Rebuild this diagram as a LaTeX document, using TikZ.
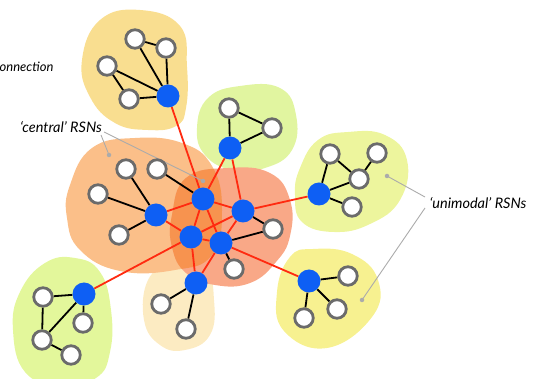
\documentclass[tikz,border=0pt]{standalone}
\usepackage{fontspec}
\setmainfont{Lato}

\definecolor{hubblue}{HTML}{0E5FF4}
\definecolor{linkred}{HTML}{FF2A10}
\definecolor{leafgray}{HTML}{6B6B6B}
\definecolor{leadgray}{HTML}{ABABAB}
\definecolor{ochre}{HTML}{F9DE90}
\definecolor{limeA}{HTML}{E1F5A0}
\definecolor{limeB}{HTML}{E3F79B}
\definecolor{limeC}{HTML}{EDF59D}
\definecolor{peach}{HTML}{FBBF89}
\definecolor{salmon}{HTML}{F9A887}
\definecolor{deeporange}{HTML}{F7934F}
\definecolor{cream}{HTML}{FCEBC2}
\definecolor{straw}{HTML}{F7F190}

\pgfdeclarelayer{blobs}
\pgfdeclarelayer{edges}
\pgfsetlayers{blobs,edges,main}

\tikzset{
  hub/.style={circle, fill=hubblue, minimum size=23pt, inner sep=0pt},
  leaf/.style={circle, fill=white, draw=leafgray, line width=2.8pt, minimum size=18.5pt, inner sep=0pt},
  tie/.style={line width=1.8pt, black},
  link/.style={line width=1.8pt, linkred},
  leader/.style={line width=0.9pt, leadgray},
  tip/.style={circle, fill=leadgray, minimum size=4.5pt, inner sep=0pt},
  caption/.style={font=\itshape\fontsize{14.5}{16}\selectfont, inner sep=0pt},
  cutword/.style={font=\itshape\fontsize{13}{15}\selectfont, inner sep=0pt},
  blob/.style={smooth cycle, tension=0.75},
}

\begin{document}
\begin{tikzpicture}[x=1pt, y=-1pt]
\useasboundingbox (0,0) rectangle (539,379);

% ---------- network nodes ----------
% upper ochre module
\node[hub]  (h1) at (168,96) {};
\node[leaf] (a1) at (135,39) {};
\node[leaf] (a2) at (166,48) {};
\node[leaf] (a3) at (107,66) {};
\node[leaf] (a4) at (129,99) {};
% upper lime module
\node[hub]  (h2) at (230,148) {};
\node[leaf] (b1) at (229,108) {};
\node[leaf] (b2) at (272,128) {};
% left peach module
\node[hub]  (h3) at (156,215) {};
\node[leaf] (c1) at (126,169) {};
\node[leaf] (c2) at (157,169) {};
\node[leaf] (c3) at (98,194) {};
\node[leaf] (c4) at (119,235) {};
% core
\node[hub]  (k1) at (203,199) {};
\node[hub]  (k2) at (243,211) {};
\node[hub]  (k3) at (191,237) {};
\node[hub]  (k4) at (221,243) {};
\node[leaf] (d1) at (273,229) {};
\node[leaf] (d2) at (234,269) {};
% lower cream module
\node[hub]  (h4) at (196,283) {};
\node[leaf] (e1) at (161,304) {};
\node[leaf] (e2) at (186,329) {};
% lower-left lime module
\node[hub]  (h5) at (84,294) {};
\node[leaf] (f1) at (43,297) {};
\node[leaf] (f2) at (83,323) {};
\node[leaf] (f3) at (42,340) {};
\node[leaf] (f4) at (71,355) {};
% right lime module
\node[hub]  (h6) at (319,194) {};
\node[leaf] (g1) at (330,154) {};
\node[leaf] (g2) at (377,153) {};
\node[leaf] (g3) at (359,179) {};
\node[leaf] (g4) at (352,207) {};
% right straw module
\node[hub]  (h7) at (309,281) {};
\node[leaf] (i1) at (348,276) {};
\node[leaf] (i2) at (337,309) {};
\node[leaf] (i3) at (304,318) {};

% ---------- labels ----------
\node[cutword, anchor=west] (conn) at (-0.5,67) {onnection};
\node[caption] (central) at (61,127) {‘central’ RSNs};
\node[caption] (unimodal) at (478,203) {‘unimodal’ RSNs};

\node[tip] (t1) at (203,181) {};
\node[tip] (t2) at (109,155) {};
\node[tip] (t3) at (387,176) {};
\node[tip] (t4) at (362,300) {};
\coordinate (s1) at (104,132);
\coordinate (s2) at (101,135);
\coordinate (s3) at (425,197);
\coordinate (s4) at (425,208);

% ---------- shaded modules ----------
\begin{pgfonlayer}{blobs}
  \def\peachpath{plot[blob] coordinates {(70,185) (92,148) (135,138) (182,143) (212,166) (222,210) (212,255) (175,270) (120,271) (80,250) (67,218)}}
  \def\salmonpath{plot[blob] coordinates {(172,215) (186,178) (228,168) (270,173) (290,200) (290,236) (276,262) (250,283) (215,285) (186,273) (172,247)}}
  \fill[ochre] plot[blob] coordinates {(100,20) (140,10) (180,26) (187,67) (186,108) (176,126) (148,130) (115,123) (90,97) (82,60)};
  \fill[limeA] plot[blob] coordinates {(197,128) (208,98) (240,86) (280,88) (296,115) (292,150) (265,168) (232,170) (205,155)};
  \fill[cream] plot[blob] coordinates {(148,280) (170,268) (205,272) (214,300) (210,335) (185,350) (160,345) (144,320)};
  \fill[peach] \peachpath;
  \fill[salmon] \salmonpath;
  \begin{scope}
    \clip \peachpath;
    \fill[deeporange] \salmonpath;
  \end{scope}
  \fill[limeB] plot[blob] coordinates {(20,292) (45,263) (75,258) (100,272) (111,310) (110,352) (96,378) (60,386) (25,372) (13,330)};
  \fill[limeC] plot[blob] coordinates {(300,168) (318,140) (348,132) (385,135) (407,160) (400,200) (370,224) (334,232) (302,222) (295,195)};
  \fill[straw] plot[blob] coordinates {(290,257) (313,249) (352,254) (378,280) (372,317) (327,348) (284,331) (277,292)};
\end{pgfonlayer}

% ---------- connectors ----------
\begin{pgfonlayer}{edges}
  % links inside modules
  \draw[tie] (a1) -- (a2) (a1) -- (h1) (a2) -- (h1) (a3) -- (h1) (a3) -- (a4) (a4) -- (h1);
  \draw[tie] (b1) -- (b2) (b1) -- (h2) (b2) -- (h2);
  \draw[tie] (c1) -- (h3) (c3) -- (h3) (c4) -- (h3) (c2) -- (k1);
  \draw[tie] (k2) -- (d1) (k4) -- (d1) (k4) -- (d2);
  \draw[tie] (h4) -- (e1) (h4) -- (e2);
  \draw[tie] (h5) -- (f1) (h5) -- (f2) (h5) -- (f3) (f1) -- (f3) (f3) -- (f4);
  \draw[tie] (h6) -- (g1) (h6) -- (g3) (g1) -- (g3) (g3) -- (g2) (h6) -- (g4);
  \draw[tie] (h7) -- (i1) (h7) -- (i2) (h7) -- (i3);
  % links between hubs
  \draw[link] (h1) -- (k1) (h2) -- (k1) (h2) -- (k2) (h3) -- (k1) (h3) -- (k3);
  \draw[link] (k1) -- (k2) (k1) -- (k3) (k1) -- (k4) (k3) -- (k2) (k3) -- (k4) (k2) -- (k4);
  \draw[link] (k2) -- (h6) (k3) -- (h5) (k4) -- (h7) (k3) -- (h4) (k4) -- (h4);
  % leader lines of the captions
  \draw[leader] (s1) -- (t1.center) (s2) -- (t2.center);
  \draw[leader] (s3) -- (t3.center) (s4) -- (t4.center);
\end{pgfonlayer}
\end{tikzpicture}
\end{document}
